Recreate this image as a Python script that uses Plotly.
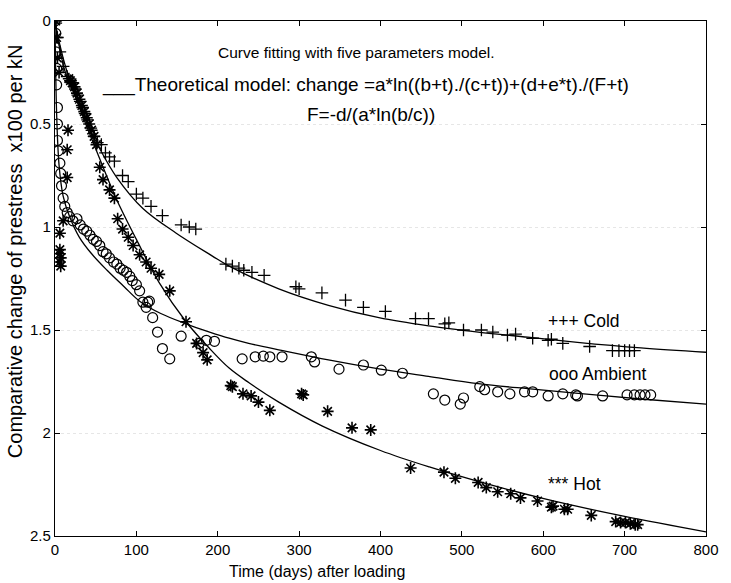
import plotly.graph_objects as go

# ---------------- data ----------------
cold_x = [1, 3, 6, 10, 15, 19, 22, 25, 28, 31, 34, 37, 40, 44, 48, 52,
          57, 62, 67, 73, 83, 90, 100, 108, 118, 132, 155, 165, 173, 210, 218,
          226, 232, 242, 257, 296, 300, 328, 357, 379, 406, 443, 459, 479, 484,
          502, 524, 538, 556, 566, 587, 606, 610, 624, 657, 685, 693, 700, 706, 712]
cold_y = [0.01, 0.08, 0.15, 0.22, 0.27, 0.29, 0.30, 0.33, 0.36, 0.39, 0.42, 0.45, 0.48, 0.52, 0.56, 0.59,
          0.60, 0.64, 0.66, 0.68, 0.75, 0.78, 0.84, 0.86, 0.90, 0.945, 0.99, 1.00, 1.01, 1.18, 1.19,
          1.20, 1.21, 1.22, 1.235, 1.29, 1.30, 1.32, 1.355, 1.39, 1.41, 1.445, 1.445, 1.47, 1.465,
          1.50, 1.50, 1.51, 1.525, 1.52, 1.54, 1.55, 1.545, 1.565, 1.58, 1.60, 1.60, 1.60, 1.60, 1.60]

amb_x = [0, 1, 1, 2, 2, 3, 3, 3, 4, 6, 7, 8, 10, 12, 15, 18, 22, 27, 31, 35, 39, 43, 47,
         51, 55, 59, 63, 67, 72, 76, 80, 84, 88, 92, 95, 100, 104, 108, 114, 112, 116,
         120, 126, 132, 141, 155, 177, 186, 196, 230, 246, 256, 264, 279, 315, 319, 349,
         379, 401, 427, 465, 479, 498, 502, 522, 528, 544, 559, 577, 587, 606, 624, 640,
         642, 673, 703, 712, 719, 725, 732]
amb_y = [0.0, 0.06, 0.15, 0.23, 0.31, 0.42, 0.50, 0.58, 0.63, 0.69, 0.74, 0.80, 0.86, 0.90, 0.93, 0.95, 0.97, 0.96, 0.99, 1.01, 1.02, 1.04, 1.06,
         1.07, 1.09, 1.12, 1.13, 1.15, 1.17, 1.18, 1.20, 1.21, 1.22, 1.24, 1.26, 1.28, 1.31, 1.365, 1.365, 1.39, 1.36,
         1.44, 1.51, 1.59, 1.64, 1.53, 1.565, 1.55, 1.555, 1.64, 1.63, 1.627, 1.63, 1.63, 1.63, 1.655, 1.69,
         1.67, 1.695, 1.71, 1.81, 1.84, 1.86, 1.83, 1.775, 1.79, 1.80, 1.81, 1.80, 1.80, 1.82, 1.81, 1.815,
         1.82, 1.82, 1.815, 1.815, 1.815, 1.815, 1.815]

hot_x = [1, 2, 3, 5, 17, 19, 21, 24, 27, 30, 33, 36, 39, 42, 45, 48, 51, 55, 59, 67, 73, 77,
         83, 90, 96, 104, 112, 118, 128, 141, 16, 15, 15, 10, 6, 6, 6, 7, 6, 7,
         161, 174, 182, 187, 216, 218, 231, 241, 250, 264, 303, 305, 335, 365, 388,
         437, 478, 492, 520, 530, 544, 560, 572, 593, 610, 612, 626, 630, 659, 689,
         695, 701, 707, 713, 716]
hot_y = [0.0, 0.08, 0.18, 0.25, 0.28, 0.29, 0.30, 0.32, 0.35, 0.38, 0.41, 0.44, 0.47, 0.50, 0.53, 0.56, 0.60, 0.71, 0.77, 0.82, 0.86, 0.96,
         1.01, 1.05, 1.09, 1.135, 1.17, 1.20, 1.23, 1.31, 0.53, 0.625, 0.76, 0.97, 1.03, 1.11, 1.13, 1.15, 1.17, 1.19,
         1.46, 1.565, 1.61, 1.645, 1.77, 1.775, 1.81, 1.82, 1.85, 1.89, 1.81, 1.815, 1.895, 1.975, 1.985,
         2.17, 2.19, 2.22, 2.24, 2.265, 2.285, 2.295, 2.315, 2.33, 2.36, 2.355, 2.37, 2.37, 2.40, 2.43,
         2.435, 2.435, 2.44, 2.445, 2.445]

# fitted model curves
cold_fit_x = [0, 5, 12, 22, 35, 55, 76, 108, 149, 193, 214, 275, 336, 398, 459, 520, 581, 642, 720, 800]
cold_fit_y = [0, 0.12, 0.24, 0.34, 0.46, 0.62, 0.76, 0.91, 1.03, 1.14, 1.19, 1.30, 1.38, 1.44, 1.48, 1.51, 1.535, 1.56, 1.587, 1.608]

amb_fit_x = [0, 2, 5, 10, 18, 30, 45, 64, 85, 104, 130, 161, 190, 214, 238, 280, 336, 400, 459, 520, 581, 650, 720, 800]
amb_fit_y = [0, 0.45, 0.7, 0.85, 0.95, 1.05, 1.13, 1.21, 1.29, 1.36, 1.42, 1.47, 1.51, 1.54, 1.565, 1.60, 1.645, 1.69, 1.725, 1.76, 1.785, 1.81, 1.835, 1.86]

hot_fit_x = [0, 5, 15, 30, 50, 75, 100, 128, 161, 190, 214, 238, 275, 328, 400, 460, 520, 602, 700, 800]
hot_fit_y = [0, 0.1, 0.25, 0.42, 0.62, 0.86, 1.06, 1.27, 1.46, 1.59, 1.685, 1.755, 1.85, 1.965, 2.085, 2.165, 2.235, 2.32, 2.405, 2.48]

x_ticks = [0, 100, 200, 300, 400, 500, 600, 700, 800]
y_ticks = [0, 0.5, 1, 1.5, 2, 2.5]
y_tick_text = ["0", "0.5", "1", "1.5", "2", "2.5"]

FONT = "Liberation Sans, Arial, sans-serif"

fig = go.Figure()

for fx, fy in [(cold_fit_x, cold_fit_y), (amb_fit_x, amb_fit_y), (hot_fit_x, hot_fit_y)]:
    fig.add_trace(go.Scatter(x=fx, y=fy, mode="lines", line=dict(color="black", width=1.3, shape="spline"),
                             showlegend=False, hoverinfo="skip"))

fig.add_trace(go.Scatter(x=cold_x, y=cold_y, mode="markers", name="Cold",
                         marker=dict(symbol="cross-thin-open", size=9, color="black",
                                     line=dict(color="black", width=1.3)),
                         showlegend=False))
fig.add_trace(go.Scatter(x=amb_x, y=amb_y, mode="markers", name="Ambient",
                         marker=dict(symbol="circle-open", size=10, color="black",
                                     line=dict(color="black", width=1.2)),
                         showlegend=False))
fig.add_trace(go.Scatter(x=hot_x, y=hot_y, mode="markers", name="Hot",
                         marker=dict(symbol="asterisk-open", size=10, color="black",
                                     line=dict(color="black", width=1.6)),
                         showlegend=False))

ann = [
    dict(text="Curve fitting with five parameters model.", x=358, y=44, size=15.5, xanchor="center"),
    dict(text="___Theoretical model: change =a*ln((b+t)./(c+t))+(d+e*t)./(F+t)", x=100, y=77, size=19, xanchor="left"),
    dict(text="F=-d/(a*ln(b/c))", x=372, y=107, size=19, xanchor="center"),
    dict(text="+++ Cold", x=548, y=317, size=17.5, xanchor="left"),
    dict(text="ooo Ambient", x=549, y=371, size=17.5, xanchor="left"),
    dict(text="*** Hot", x=548, y=483, size=17.5, xanchor="left"),
]
L, T, PW, PH = 55, 12, 654, 524
for a in ann:
    fig.add_annotation(text=a["text"], xref="paper", yref="paper",
                       x=(a["x"] - L) / PW, y=1 - (a["y"] - T) / PH,
                       xanchor=a["xanchor"], yanchor="middle", showarrow=False,
                       font=dict(family=FONT, size=a["size"], color="black"))

# axis titles
fig.add_annotation(text="Comparative change of prestress  x100 per kN", xref="paper", yref="paper",
                   x=(15 - L) / PW, y=1 - (246 - T) / PH, textangle=-90, showarrow=False,
                   xanchor="center", yanchor="middle", font=dict(family=FONT, size=20, color="black"))
fig.add_annotation(text="Time (days) after loading", xref="paper", yref="paper",
                   x=(318 - L) / PW, y=1 - (572 - T) / PH, showarrow=False,
                   xanchor="center", yanchor="middle", font=dict(family=FONT, size=16, color="black"))

axis_common = dict(showline=True, linecolor="black", linewidth=1.2, mirror="ticks",
                   ticks="inside", ticklen=5, tickcolor="black", tickwidth=1,
                   zeroline=False, tickfont=dict(family=FONT, size=15, color="black"))

fig.update_xaxes(range=[0, 800], tickvals=x_ticks, showgrid=False, **axis_common)
fig.update_yaxes(range=[2.5, 0], tickvals=y_ticks, ticktext=y_tick_text, showgrid=True,
                 gridcolor="#e6e6e6", griddash="dot", gridwidth=1, **axis_common)

fig.update_layout(width=731, height=583, margin=dict(l=L, r=731 - L - PW, t=T, b=583 - T - PH),
                  paper_bgcolor="white", plot_bgcolor="white", showlegend=False,
                  font=dict(family=FONT, color="black"))

fig.write_html("out.html")
